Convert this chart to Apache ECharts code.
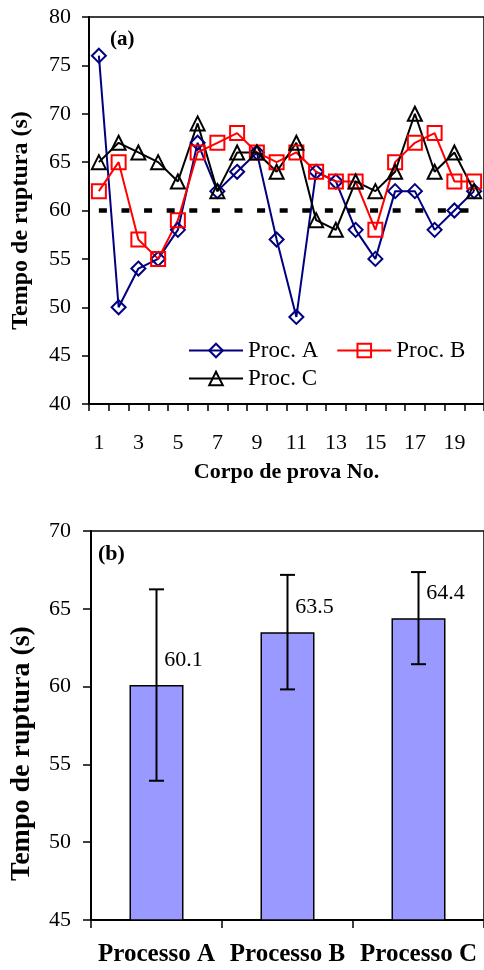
<!DOCTYPE html>
<html>
<head>
<meta charset="utf-8">
<script src="https://cdn.jsdelivr.net/npm/echarts@6/dist/echarts.min.js"></script>
<style>
  html, body { margin: 0; padding: 0; background: #fff; }
  #chart { width: 484px; height: 970px; }
</style>
</head>
<body>
<div id="chart"></div>
<script>
// (a) rupture time per test specimen
const specimens = ['1','2','3','4','5','6','7','8','9','10','11','12','13','14','15','16','17','18','19','20'];
const procA = [76, 50, 54, 55, 58, 67, 62, 64, 66, 57, 49, 64, 63, 58, 55, 62, 62, 58, 60, 62];
const procB = [62, 65, 57, 55, 59, 66, 67, 68, 66, 65, 66, 64, 63, 63, 58, 65, 67, 68, 63, 63];
const procC = [65, 67, 66, 65, 63, 69, 62, 66, 66, 64, 67, 59, 58, 63, 62, 64, 70, 64, 66, 62];
const referenceTime = 60;

// (b) mean rupture time per process with standard deviation
const processes = ['Processo A', 'Processo B', 'Processo C'];
const meanTimes = [60.1, 63.5, 64.4];
const stdDevs = [6.15, 3.68, 2.96];

const SERIF = '"Liberation Serif", "Times New Roman", serif';
const NAVY = '#000080';
const RED = '#ff0000';
const BLACK = '#000000';

const errorData = meanTimes.map((m, i) => [i, m - stdDevs[i], m + stdDevs[i]]);

function lineSeries(name, data, color, symbol) {
  return {
    type: 'line',
    name: name,
    xAxisIndex: 0,
    yAxisIndex: 0,
    data: data,
    symbol: symbol,
    symbolSize: 14,
    showSymbol: true,
    showAllSymbol: true,
    color: color,
    lineStyle: { color: color, width: 2 },
    itemStyle: { color: 'rgba(0,0,0,0)', borderColor: color, borderWidth: 2 },
    emphasis: { disabled: true }
  };
}

const axisLineStyle = { show: true, lineStyle: { color: BLACK, width: 2 } };
const tickStyle = { color: BLACK, width: 1.5 };
const tickLabel = { color: BLACK, fontFamily: SERIF, fontSize: 22 };

const chart = echarts.init(document.getElementById('chart'), null, { renderer: 'canvas' });

chart.setOption({
  animation: false,
  backgroundColor: '#fff',
  grid: [
    { left: 89, top: 17, width: 396, height: 387, show: true, borderColor: BLACK, borderWidth: 1.5 },
    { left: 87, top: 531, width: 401, height: 389, show: true, borderColor: BLACK, borderWidth: 1.5 }
  ],
  xAxis: [
    {
      gridIndex: 0,
      type: 'category',
      data: specimens,
      boundaryGap: true,
      axisLine: axisLineStyle,
      axisTick: { show: true, interval: 0, length: 7, lineStyle: tickStyle },
      axisLabel: Object.assign({ interval: 1, margin: 28 }, tickLabel),
      splitLine: { show: false },
      name: 'Corpo de prova No.',
      nameLocation: 'middle',
      nameGap: 57,
      nameTextStyle: { color: BLACK, fontFamily: SERIF, fontSize: 22, fontWeight: 'bold' }
    },
    {
      gridIndex: 1,
      type: 'category',
      data: processes,
      boundaryGap: true,
      axisLine: axisLineStyle,
      axisTick: { show: true, interval: 0, length: 8, lineStyle: tickStyle },
      axisLabel: Object.assign({}, tickLabel, { interval: 0, margin: 22, fontSize: 25, fontWeight: 'bold' }),
      splitLine: { show: false }
    }
  ],
  yAxis: [
    {
      gridIndex: 0,
      type: 'value',
      min: 40,
      max: 80,
      interval: 5,
      axisLine: axisLineStyle,
      axisTick: { show: true, length: 7, lineStyle: tickStyle },
      axisLabel: Object.assign({ margin: 18 }, tickLabel),
      splitLine: { show: false },
      name: 'Tempo de ruptura (s)',
      nameLocation: 'middle',
      nameGap: 56,
      nameTextStyle: { color: BLACK, fontFamily: SERIF, fontSize: 24, fontWeight: 'bold', padding: [0, 20, 0, 0] }
    },
    {
      gridIndex: 1,
      type: 'value',
      min: 45,
      max: 70,
      interval: 5,
      axisLine: axisLineStyle,
      axisTick: { show: true, length: 8, lineStyle: tickStyle },
      axisLabel: Object.assign({ margin: 20 }, tickLabel),
      splitLine: { show: false },
      name: 'Tempo de ruptura (s)',
      nameLocation: 'middle',
      nameGap: 55,
      nameTextStyle: { color: BLACK, fontFamily: SERIF, fontSize: 28, fontWeight: 'bold', padding: [0, 56, 0, 0] }
    }
  ],
  legend: [
    {
      data: ['Proc. A', 'Proc. B'],
      left: 188,
      top: 339,
      padding: 0,
      itemWidth: 54,
      itemHeight: 17,
      itemGap: 18,
      textStyle: { color: BLACK, fontFamily: SERIF, fontSize: 23, lineHeight: 22 }
    },
    {
      data: ['Proc. C'],
      left: 188,
      top: 367,
      padding: 0,
      itemWidth: 54,
      itemHeight: 17,
      textStyle: { color: BLACK, fontFamily: SERIF, fontSize: 23, lineHeight: 22 }
    }
  ],
  graphic: [
    {
      type: 'text', left: 110, top: 29,
      style: { text: '(a)', fill: BLACK, font: 'bold 21px ' + SERIF }
    },
    {
      type: 'text', left: 98, top: 543,
      style: { text: '(b)', fill: BLACK, font: 'bold 22px ' + SERIF }
    }
  ],
  series: [
    Object.assign(lineSeries('Proc. A', procA, NAVY, 'diamond'), {
      markLine: {
        silent: true,
        symbol: ['none', 'none'],
        label: { show: false },
        lineStyle: { color: BLACK, width: 4.5, type: [8, 14.6] },
        data: [[
          { coord: [specimens[0], referenceTime] },
          { coord: [specimens[specimens.length - 1], referenceTime] }
        ]]
      }
    }),
    lineSeries('Proc. B', procB, RED, 'rect'),
    lineSeries('Proc. C', procC, BLACK, 'triangle'),
    {
      type: 'bar',
      xAxisIndex: 1,
      yAxisIndex: 1,
      data: meanTimes,
      barWidth: 54,
      itemStyle: { color: '#9999ff', borderColor: BLACK, borderWidth: 1.5 },
      label: {
        show: true,
        position: 'top',
        offset: [27, -9],
        formatter: '{c}',
        color: BLACK,
        fontFamily: SERIF,
        fontSize: 22
      },
      emphasis: { disabled: true }
    },
    {
      type: 'custom',
      xAxisIndex: 1,
      yAxisIndex: 1,
      data: errorData,
      encode: { x: 0, y: [1, 2] },
      z: 5,
      renderItem: function (params, api) {
        const low = api.coord([api.value(0), api.value(1)]);
        const high = api.coord([api.value(0), api.value(2)]);
        const half = 7.5;
        const style = { stroke: BLACK, lineWidth: 2 };
        return {
          type: 'group',
          children: [
            { type: 'line', shape: { x1: high[0], y1: high[1], x2: low[0], y2: low[1] }, style: style },
            { type: 'line', shape: { x1: high[0] - half, y1: high[1], x2: high[0] + half, y2: high[1] }, style: style },
            { type: 'line', shape: { x1: low[0] - half, y1: low[1], x2: low[0] + half, y2: low[1] }, style: style }
          ]
        };
      }
    }
  ]
});
</script>
</body>
</html>
